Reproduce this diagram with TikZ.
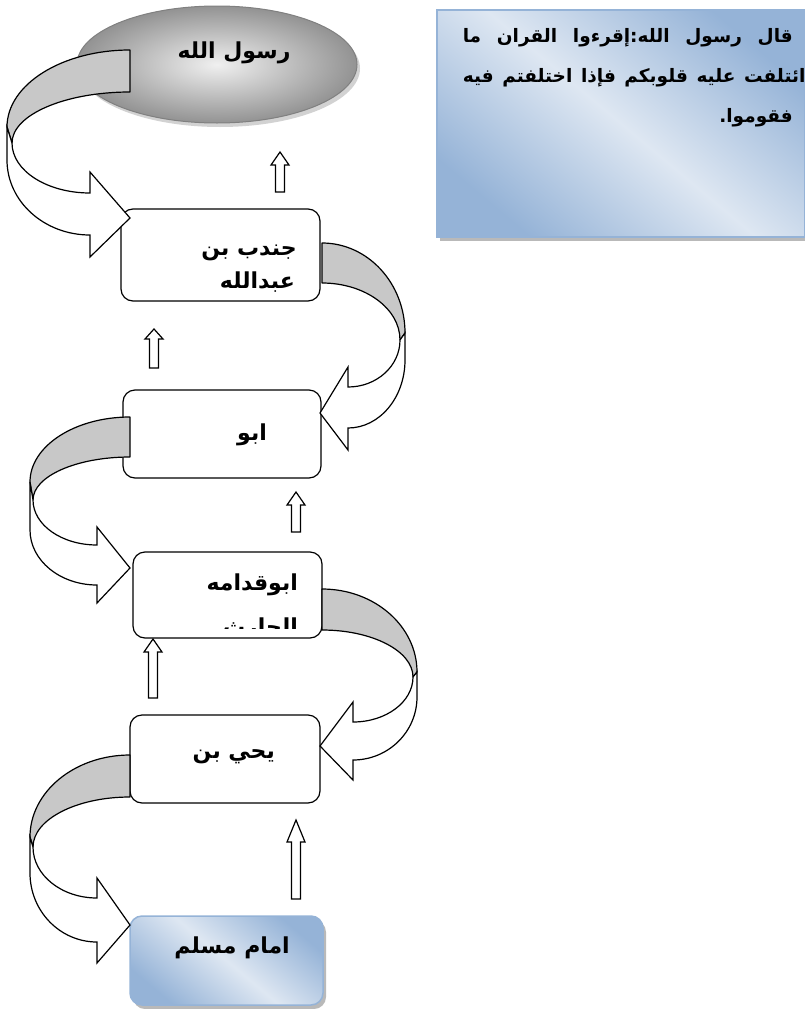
\documentclass[tikz,border=0pt]{standalone}
\usepackage{fontspec}
\usepackage{tikz}
\usetikzlibrary{positioning, shapes, shadows, arrows.meta}
\newfontfamily\arabicfont[Script=Arabic]{DejaVu Sans}
\TeXXeTstate=1
\definecolor{boxblue}{HTML}{95B3D7}
\definecolor{lightblue}{HTML}{DEE7F2}
\definecolor{bandgray}{HTML}{C8C8C8}

\tikzset{
  chainbox/.style={draw, line width=1.2pt, rounded corners=12pt, fill=white, inner sep=0pt},
  bluebox/.style={draw=boxblue, line width=1.5pt, top color=boxblue, bottom color=boxblue,
    middle color=lightblue, shading angle=-40, inner sep=0pt,
    drop shadow={shadow xshift=3pt, shadow yshift=-4pt, fill=gray!55, opacity=1}},
  arabic/.style={font=\arabicfont\bfseries\fontsize{22}{26}\selectfont, inner sep=0pt},
  quoteline/.style={font=\arabicfont\bfseries\fontsize{18.5}{22}\selectfont, inner sep=0pt, anchor=base east},
  band/.style={draw, line width=1.2pt, fill=bandgray, line join=round},
  front/.style={draw, line width=1.2pt, fill=white},
  uparrow/.style={draw, line width=1.2pt, fill=white}
}

\begin{document}
\begin{tikzpicture}[x=1pt, y=-1pt]
        \useasboundingbox (0,0) rectangle (805,1009);

        % quote box
        \node[bluebox, minimum width=368pt, minimum height=227pt] (quote) at (621,123.5) {};
        \node[quoteline] (quotea) at (793,42)
          {\hbox to 330pt{\beginR قال \hfill{} رسول \hfill{} الله:إقرءوا \hfill{} القران \hfill{} ما\endR}};
        \node[quoteline] (quoteb) at (793,82)
          {\hbox to 330pt{\beginR ائتلفت \hfill{} عليه \hfill{} قلوبكم \hfill{} فإذا \hfill{} اختلفتم \hfill{} فيه\endR}};
        \node[quoteline] (quotec) at (793,122) {\beginR فقوموا.\endR};

        % chain of narrators
        \node[ellipse, draw=gray, line width=1pt, minimum width=280pt, minimum height=117pt,
          inner color=gray!12, outer color=gray!85,
          drop shadow={shadow xshift=3pt, shadow yshift=-4pt, fill=gray!35, opacity=1}] (rasul) at (217,64.5) {};
        \node[arabic, anchor=base] (rasultext) at (234,58) {\beginR رسول الله\endR};

        \node[chainbox, minimum width=199pt, minimum height=92pt] (jundub) at (220.5,255) {};
        \node[arabic, anchor=base east] (jundubtext) at (297,255) {\beginR جندب بن\endR};
        \begin{scope}
          \clip (122,260) rectangle (319,291);
          \node[arabic, anchor=base east] (jundubname) at (295,288) {\beginR عبدالله\endR};
        \end{scope}

        \node[chainbox, minimum width=198pt, minimum height=88pt] (abu) at (222,434) {};
        \node[arabic, anchor=base east] (abutext) at (267,440) {\beginR ابو\endR};

        \node[chainbox, minimum width=189pt, minimum height=86pt] (abuqudama) at (227.5,595) {};
        \node[arabic, anchor=base east] (abuqudamatext) at (298,590) {\beginR ابوقدامه\endR};
        \begin{scope}
          \clip (134,600) rectangle (321,628);
          \node[arabic, anchor=base east] (abuqudamaname) at (298,634) {\beginR الحارث\endR};
        \end{scope}

        \node[chainbox, minimum width=190pt, minimum height=88pt] (yahya) at (225,759) {};
        \node[arabic, anchor=base east] (yahyatext) at (275,758) {\beginR يحي بن\endR};

        \node[bluebox, rounded corners=12pt, minimum width=193pt, minimum height=89pt] (muslim) at (226.5,960.5) {};
        \node[arabic, anchor=base east] (muslimtext) at (290,953) {\beginR امام مسلم\endR};

        % straight block arrows
        \foreach \x/\yb/\yh/\yt in {280/192/165/152, 154/368/339/329, 296/532/505/492, 153/698/652/639, 296/899/842/820}
        \draw[uparrow] (\x-4.5,\yb) -- (\x-4.5,\yh) -- (\x-9,\yh) -- (\x,\yt) -- (\x+9,\yh) -- (\x+4.5,\yh) -- (\x+4.5,\yb) -- cycle;

        % curved block arrows, left side
        \draw[band] (130,50) arc[start angle=270, end angle=180, x radius=123, y radius=77]
          -- (12,143) arc[start angle=180, end angle=270, x radius=118, y radius=51] -- cycle;
        \draw[front] (7,127) -- (7,160) arc[start angle=180, end angle=90, x radius=83, y radius=75]
          -- (90,257) -- (130,218) -- (90,172) -- (90,193) arc[start angle=90, end angle=180, x radius=78, y radius=50] -- cycle;

        \draw[band] (130,417) arc[start angle=270, end angle=180, x radius=100, y radius=65]
          -- (33,500) arc[start angle=180, end angle=270, x radius=97, y radius=43] -- cycle;
        \draw[front] (30,482) -- (30,530) arc[start angle=180, end angle=90, x radius=67, y radius=55]
          -- (97,603) -- (130,568) -- (97,527) -- (97,545) arc[start angle=90, end angle=180, x radius=64, y radius=45] -- cycle;

        \draw[band] (130,755) arc[start angle=270, end angle=180, x radius=100, y radius=82]
          -- (33,847) arc[start angle=180, end angle=270, x radius=97, y radius=50] -- cycle;
        \draw[front] (30,837) -- (30,873) arc[start angle=180, end angle=90, x radius=67, y radius=69]
          -- (97,963) -- (130,925) -- (97,878) -- (97,898) arc[start angle=90, end angle=180, x radius=64, y radius=51] -- cycle;

        % curved block arrows, right side
        \draw[band] (322,243) arc[start angle=270, end angle=360, x radius=83, y radius=90]
          -- (400,340) arc[start angle=0, end angle=-90, x radius=78, y radius=57] -- cycle;
        \draw[front] (405,333) -- (405,360) arc[start angle=0, end angle=90, x radius=57, y radius=68]
          -- (348,450) -- (320,413) -- (348,367) -- (348,387) arc[start angle=90, end angle=0, x radius=52, y radius=47] -- cycle;

        \draw[band] (322,589) arc[start angle=270, end angle=360, x radius=95, y radius=83]
          -- (413,677) arc[start angle=0, end angle=-90, x radius=91, y radius=47] -- cycle;
        \draw[front] (417,672) -- (417,697) arc[start angle=0, end angle=90, x radius=64, y radius=63]
          -- (353,780) -- (320,746) -- (353,702) -- (353,722) arc[start angle=90, end angle=0, x radius=60, y radius=45] -- cycle;

    \end{tikzpicture}
\end{document}
